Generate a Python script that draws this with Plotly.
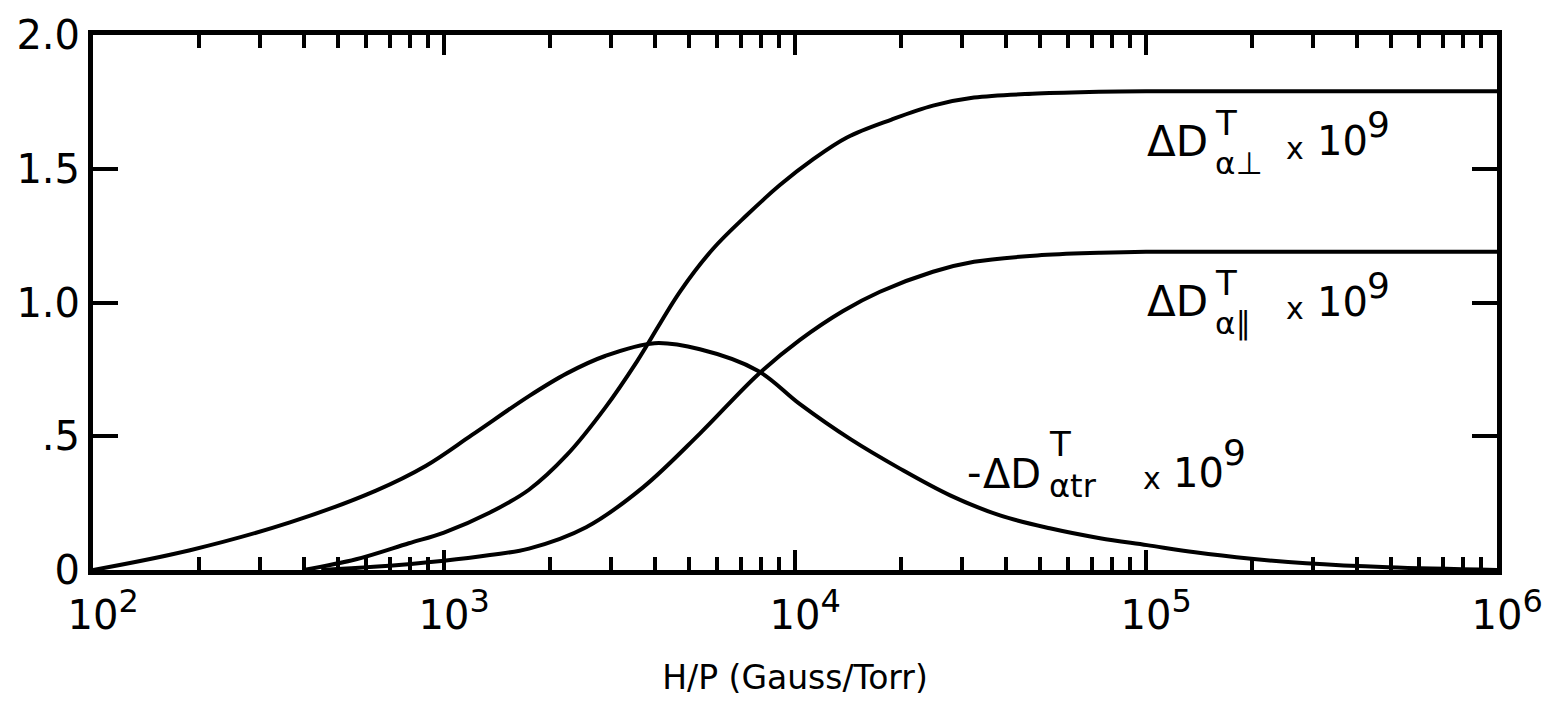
import plotly.graph_objects as go

# H/P (Gauss/Torr) and values (x 10^9)
hp_tr = [100, 189, 364, 640, 889, 1202, 1746, 2239, 2877, 3981, 5358, 7834, 10330,
         14350, 19910, 27670, 38370, 53210, 73960, 100700, 138000, 199500, 285800,
         489800, 1000000]
d_tr = [0.0, 0.074, 0.178, 0.297, 0.39, 0.505, 0.65, 0.735, 0.80, 0.848, 0.825,
        0.745, 0.62, 0.49, 0.379, 0.279, 0.204, 0.156, 0.119, 0.093, 0.066, 0.042,
        0.025, 0.01, 0.0]

hp_perp = [398, 562, 794, 1000, 1352, 1746, 2239, 2877, 3548, 4699, 5834, 7295, 9057,
           11250, 14060, 18840, 24720, 32360, 48980, 73450, 100000, 1000000]
d_perp = [0.0, 0.04, 0.10, 0.14, 0.215, 0.30, 0.43, 0.606, 0.78, 1.04, 1.20, 1.327,
          1.439, 1.535, 1.617, 1.684, 1.736, 1.766, 1.781, 1.788, 1.79, 1.79]

hp_par = [447, 631, 1000, 1352, 1746, 2541, 3690, 5358, 7834, 10330, 13710, 17460,
          24720, 32360, 48980, 73450, 100000, 1000000]
d_par = [0.0, 0.012, 0.035, 0.056, 0.08, 0.16, 0.309, 0.51, 0.73, 0.86, 0.968,
         1.04, 1.115, 1.152, 1.176, 1.186, 1.19, 1.19]

x_tickvals = [1e2, 1e3, 1e4, 1e5, 1e6]
x_ticktext = ["<span style='font-size:32px'>&nbsp;&nbsp;</span>10<sup><span style='font-size:32px'>%d</span></sup>" % e
              for e in range(2, 7)]
x_minorvals = [m * 10 ** e for e in range(2, 6) for m in range(2, 10)]
y_tickvals = [0, 0.5, 1.0, 1.5, 2.0]
y_ticktext = ["0", ".5", "1.0", "1.5", "2.0"]

FONT = "DejaVu Sans"
L, R, T, B = 93, 1497, 32, 570

fig = go.Figure()
for xs, ys in [(hp_tr, d_tr), (hp_perp, d_perp), (hp_par, d_par)]:
    fig.add_trace(go.Scatter(x=xs, y=ys, mode="lines",
                             line=dict(color="black", width=4, shape="spline", smoothing=1.0),
                             hoverinfo="skip"))

fig.update_layout(
    width=1555, height=704,
    margin=dict(l=L, r=1555 - R, t=T, b=704 - B),
    plot_bgcolor="white", paper_bgcolor="white",
    showlegend=False,
    font=dict(family=FONT, color="black"),
)

fig.update_xaxes(
    type="log", range=[2, 6],
    tickmode="array", tickvals=x_tickvals, ticktext=x_ticktext,
    ticks="inside", ticklen=20, tickwidth=4, tickcolor="black",
    tickfont=dict(size=40, family=FONT), ticklabelstandoff=6,
    showline=True, linewidth=5, linecolor="black", mirror="ticks",
    showgrid=False, zeroline=False,
    minor=dict(tickmode="array", tickvals=x_minorvals, ticks="inside",
               ticklen=13, tickwidth=4, tickcolor="black", showgrid=False),
    title=dict(text="H/P (Gauss/Torr)", font=dict(size=33, family=FONT), standoff=30),
)
fig.update_yaxes(
    range=[0, 2],
    tickmode="array", tickvals=y_tickvals, ticktext=y_ticktext,
    ticks="inside", ticklen=25, tickwidth=4, tickcolor="black",
    tickfont=dict(size=40, family=FONT),
    showline=True, linewidth=5, linecolor="black", mirror="ticks",
    showgrid=False, zeroline=False,
)


def lab(text, px, py, size):
    fig.add_annotation(x=(px - L) / (R - L), y=(B - py) / (B - T), xref="paper", yref="paper",
                       text=text, showarrow=False, xanchor="left", yanchor="middle",
                       borderpad=0, font=dict(size=size, family=FONT, color="black"))


# ΔD⊥ label
lab("ΔD", 1146, 139, 42)
lab("T", 1214, 120, 34)
lab("α⊥", 1214, 161, 31)
lab("x", 1285, 146, 30)
lab("10", 1316, 139, 40)
lab("9", 1366, 122, 36)

# ΔD∥ label
lab("ΔD", 1146, 300, 42)
lab("T", 1214, 281, 34)
lab("α∥", 1214, 322, 31)
lab("x", 1285, 307, 30)
lab("10", 1316, 300, 40)
lab("9", 1366, 284, 36)

# -ΔDtr label
lab("-", 966, 472, 40)
lab("ΔD", 982, 473, 40)
lab("T", 1048, 443, 34)
lab("αtr", 1048, 486, 32)
lab("x", 1142, 478, 30)
lab("10", 1172, 472, 40)
lab("9", 1222, 452, 36)

fig.write_html("out.html")
